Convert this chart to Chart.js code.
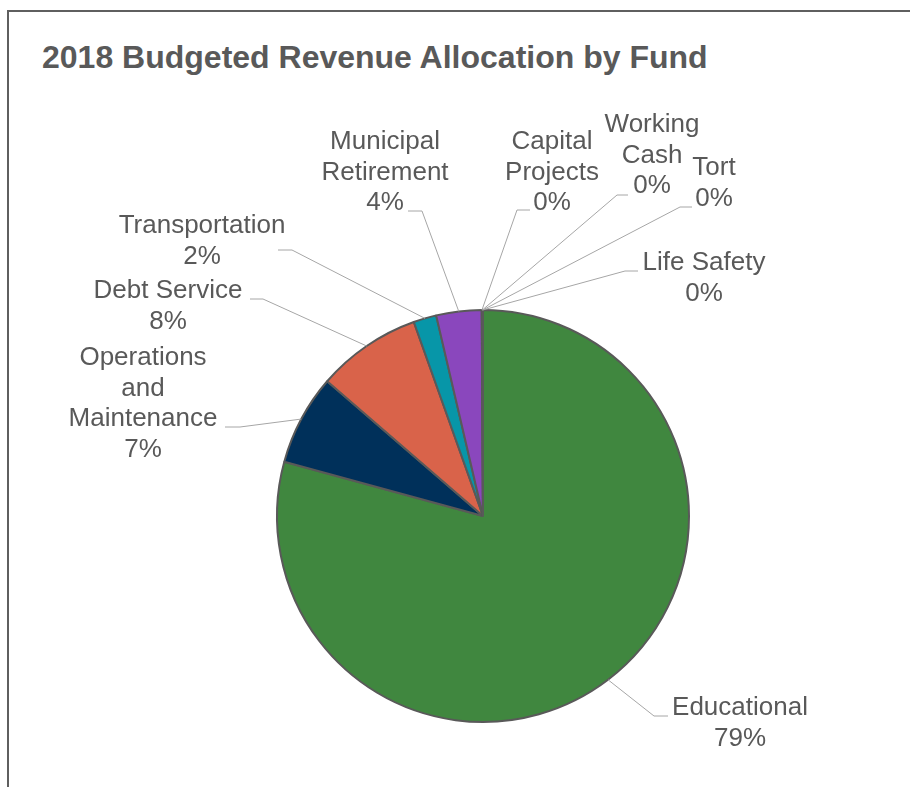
<!DOCTYPE html>
<html>
<head>
<meta charset="utf-8">
<title>2018 Budgeted Revenue Allocation by Fund</title>
<script src="https://cdn.jsdelivr.net/npm/chart.js@4.4.1/dist/chart.umd.min.js"></script>
<style>
  html, body { margin: 0; padding: 0; background: #fff; overflow: hidden; }
  #frame {
    position: absolute; left: 7px; top: 10px; width: 1000px; height: 1000px;
    border-top: 2px solid #5f5f5f; border-left: 2px solid #5f5f5f;
  }
  #title {
    position: absolute; left: 42px; top: 39px; line-height: 36px;
    font: bold 32px "Liberation Sans", Arial, sans-serif; color: #595959;
    white-space: nowrap;
  }
  #revenueChart { position: absolute; left: 0; top: 0; }
</style>
</head>
<body>
<div id="frame"></div>
<div id="title">2018 Budgeted Revenue Allocation by Fund</div>
<canvas id="revenueChart" width="910" height="787"></canvas>
<script>
// fund names (line breaks are where the labels wrap)
const funds = [
    'Educational',
    'Operations\nand\nMaintenance',
    'Debt Service',
    'Transportation',
    'Municipal\nRetirement',
    'Capital\nProjects',
    'Working\nCash',
    'Tort',
    'Life Safety'
];
// share of budgeted revenue, percent
const shares = [79.23, 7.1, 8.2, 1.8, 3.55, 0.04, 0.02, 0.02, 0.02];
const fundColors = ['#40873f', '#00305a', '#d9634a', '#0796a8', '#8a47bd', '#e0e0e0', '#c0c0c0', '#a0a0a0', '#808080'];

// label placement, px from pie centre: text centre (tx, first line ty),
// leader end at the text (px, py) and the knee x (kx)
const labelLayout = [
    { tx: 257, ty: 192, px: 185, py: 200, kx: 171 },
    { tx: -340, ty: -158, px: -258, py: -89, kx: -243 },
    { tx: -315, ty: -225, px: -233, py: -217, kx: -220 },
    { tx: -281, ty: -290, px: -205, py: -266, kx: -191 },
    { tx: -98, ty: -374, px: -75, py: -305, kx: -61 },
    { tx: 69, ty: -374, px: 47, py: -306, kx: 34 },
    { tx: 169, ty: -391, px: 145, py: -321, kx: 134 },
    { tx: 231, ty: -348, px: 209, py: -309, kx: 197 },
    { tx: 221, ty: -253, px: 155, py: -245, kx: 142 }
];

const LINE_H = 30.5;

const fundLabels = {
    id: 'fundLabels',
    afterDatasetsDraw(chart) {
        const ctx = chart.ctx;
        const arcs = chart.getDatasetMeta(0).data;
        const data = chart.data.datasets[0].data;
        const total = data.reduce((s, v) => s + v, 0);
        ctx.save();
        arcs.forEach((arc, i) => {
            const { x, y, startAngle, endAngle, outerRadius } = arc.getProps(['x', 'y', 'startAngle', 'endAngle', 'outerRadius'], true);
            const mid = (startAngle + endAngle) / 2;
            const lay = labelLayout[i];
            const ex = x + Math.cos(mid) * outerRadius;
            const ey = y + Math.sin(mid) * outerRadius;

            // leader line: slice edge -> knee -> label
            ctx.strokeStyle = '#a6a6a6';
            ctx.lineWidth = 1;
            ctx.beginPath();
            ctx.moveTo(ex, ey);
            ctx.lineTo(x + lay.kx, y + lay.py);
            ctx.lineTo(x + lay.px, y + lay.py);
            ctx.stroke();

            const lines = chart.data.labels[i].split('\n');
            lines.push(Math.round(data[i] / total * 100) + '%');
            ctx.fillStyle = '#595959';
            ctx.font = '26px "Liberation Sans", Arial, sans-serif';
            ctx.textAlign = 'center';
            ctx.textBaseline = 'middle';
            lines.forEach((t, j) => ctx.fillText(t, x + lay.tx, y + lay.ty + j * LINE_H));
        });
        ctx.restore();
    }
};

new Chart(document.getElementById('revenueChart'), {
    type: 'pie',
    data: {
        labels: funds,
        datasets: [{
            data: shares,
            backgroundColor: fundColors,
            borderColor: '#595959',
            borderWidth: 2,
            hoverOffset: 0,
            offset: 0
        }]
    },
    options: {
        responsive: false,
        animation: false,
        events: [],
        layout: { padding: { left: 276, right: 220, top: 309, bottom: 64 } },
        plugins: {
            legend: { display: false },
            tooltip: { enabled: false },
            title: { display: false }
        }
    },
    plugins: [fundLabels]
});
</script>
</body>
</html>
